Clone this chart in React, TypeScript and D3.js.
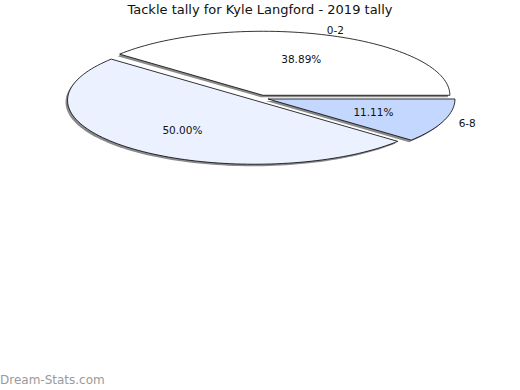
import React from "react";
import * as d3 from "d3";

const title = "Tackle tally for Kyle Langford - 2019 tally";
const categories = ["0-2", "3-5", "6-8"];
const values = [38.89, 50.0, 11.11];
const showLabel = [true, false, true];
const colors = ["#ffffff", "#ebf1ff", "#c4d7ff"];
const footer = "Dream-Stats.com";

const W = 520, H = 390;
const cx = 260, cy = 98, rx = 187, ry = 64;
const explode = 8.5;

export default function App() {
  const total = d3.sum(values);
  const ang = d3.scaleLinear().domain([0, total]).range([0, 2 * Math.PI]);
  const cum = d3.cumsum(values);
  const slices = values.map((v, i) => {
    const a0 = ang(i === 0 ? 0 : cum[i - 1]);
    const a1 = ang(cum[i]);
    const mid = (a0 + a1) / 2;
    const ox = cx + explode * Math.cos(mid);
    const oy = cy - explode * (ry / rx) * Math.sin(mid);
    const n = Math.max(8, Math.ceil(((a1 - a0) / (2 * Math.PI)) * 200));
    const pts: [number, number][] = [[ox, oy]];
    d3.range(n + 1).forEach((k) => {
      const t = a0 + ((a1 - a0) * k) / n;
      pts.push([ox + rx * Math.cos(t), oy - ry * Math.sin(t)]);
    });
    const path = d3.line()(pts) + "Z";
    return { i, v, a0, a1, mid, ox, oy, path };
  });

  return (
    <svg width={W} height={H} style={{ position: "absolute", left: 0, top: 0, background: "#fff" }}
      fontFamily="DejaVu Sans, sans-serif">
      <text x={260} y={14} textAnchor="middle" fontSize={13} fill="#111">{title}</text>
      {slices.map((s) => (
        <path key={"sh" + s.i} d={s.path} transform="translate(-2,2)" fill="#8a8a8a" stroke="none" />
      ))}
      {slices.map((s) => (
        <path key={"p" + s.i} d={s.path} fill={colors[s.i]} stroke="#000" strokeWidth={0.8} />
      ))}
      {slices.map((s) => (
        <text key={"pc" + s.i} x={s.ox + 0.6 * rx * Math.cos(s.mid)} y={s.oy - 0.6 * ry * Math.sin(s.mid) + 4}
          textAnchor="middle" fontSize={10.5} fill="#111">
          {d3.format(".2f")(s.v) + "%"}
        </text>
      ))}
      {slices.filter((s) => showLabel[s.i]).map((s) => (
        <text key={"lb" + s.i} x={s.ox + (rx + 25) * Math.cos(s.mid)} y={s.oy - (ry + 5) * Math.sin(s.mid) + 4}
          textAnchor="middle" fontSize={10.5} fill="#111">
          {categories[s.i]}
        </text>
      ))}
      <text x={0} y={384} fontSize={12} fill="#9a9a9a">{footer}</text>
    </svg>
  );
}
